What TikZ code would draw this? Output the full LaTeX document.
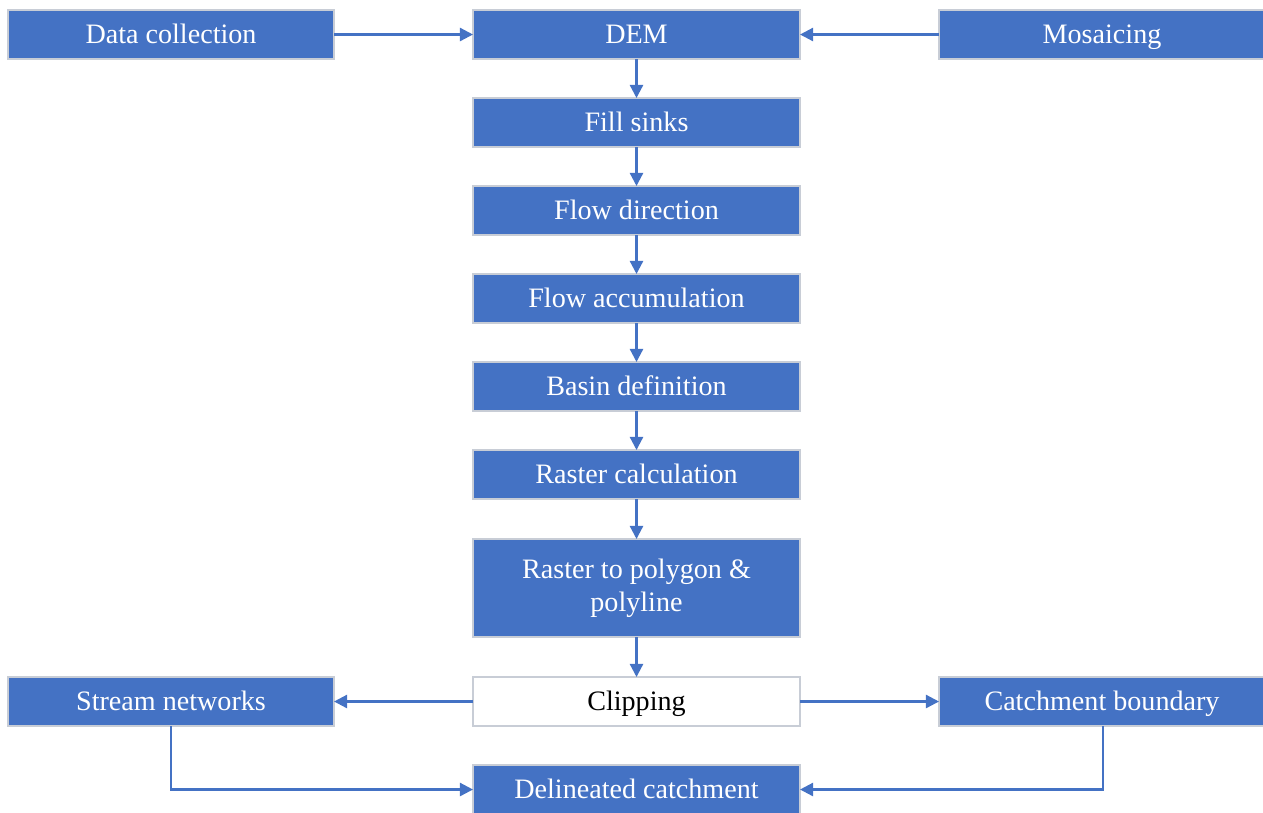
\documentclass[tikz,border=0pt]{standalone}
\usepackage{fontspec}
\setmainfont{Liberation Serif}
\usepackage{xcolor}
\usetikzlibrary{shapes,arrows.meta,positioning}
\definecolor{boxblue}{HTML}{4472C4}
\definecolor{boxline}{HTML}{C8CDD6}

\tikzset{
  plainbox/.style={draw=boxline, line width=0.6pt, rectangle, fill=boxblue, text=white, outer sep=0pt,
    minimum width=6.54cm, minimum height=0.98cm, font=\fontsize{16}{19}\selectfont, align=center, inner sep=2pt},
  stepbox/.style={plainbox, text height=12pt, text depth=1.5pt},
  sidebox/.style={stepbox, minimum width=6.52cm},
  whitebox/.style={stepbox, fill=white, text=black},
  link/.style={draw=boxblue, line width=1.3pt, -{Triangle[length=7.5pt,width=7.5pt]}}
}

\begin{document}
\begin{tikzpicture}[node distance=0.78cm and 2.78cm]
\useasboundingbox (0,0) rectangle (25.26,-16.24);
\node (dem) [stepbox] at (12.73,-0.69) {DEM};
\node (data) [sidebox, left=of dem] {Data collection};
\node (mosaic) [sidebox, right=of dem] {Mosaicing};
\node (fill) [stepbox, below=of dem] {Fill sinks};
\node (flowdir) [stepbox, below=of fill] {Flow direction};
\node (flowacc) [stepbox, below=of flowdir] {Flow accumulation};
\node (basin) [stepbox, below=of flowacc] {Basin definition};
\node (raster) [stepbox, below=of basin] {Raster calculation};
\node (topoly) [plainbox, below=0.8cm of raster, minimum height=1.96cm] {Raster to polygon \&\\polyline};
\node (clip) [whitebox, below=0.8cm of topoly] {Clipping};
\node (stream) [sidebox, left=of clip] {Stream networks};
\node (bound) [sidebox, right=of clip] {Catchment boundary};
\node (catch) [stepbox, below=of clip] {Delineated catchment};

\draw[link] (data) -- (dem);
\draw[link] (mosaic) -- (dem);
\draw[link] (dem) -- (fill);
\draw[link] (fill) -- (flowdir);
\draw[link] (flowdir) -- (flowacc);
\draw[link] (flowacc) -- (basin);
\draw[link] (basin) -- (raster);
\draw[link] (raster) -- (topoly);
\draw[link] (topoly) -- (clip);
\draw[link] (clip) -- (stream);
\draw[link] (clip) -- (bound);
\draw[link] (stream) |- (catch);
\draw[link] (bound.south -| 22.06,0) |- (catch);
\end{tikzpicture}
\end{document}
